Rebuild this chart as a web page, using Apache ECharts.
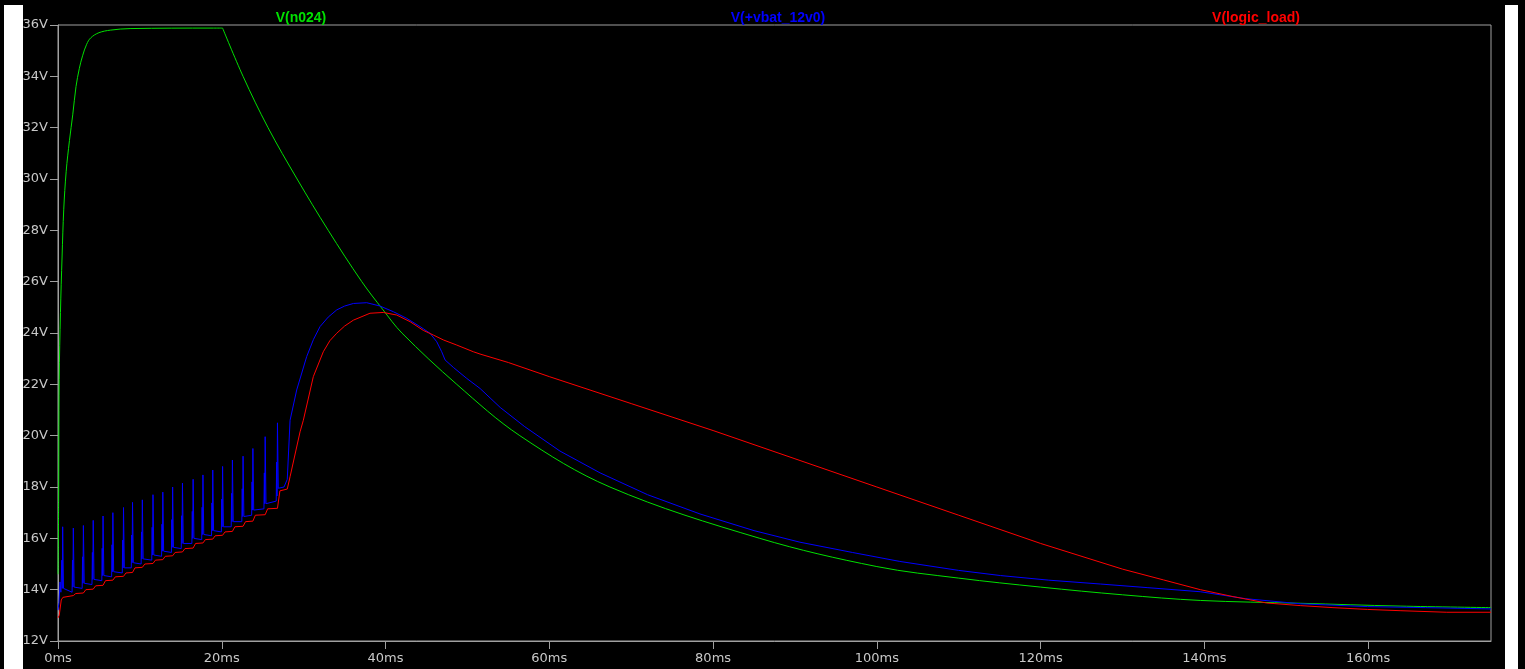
<!DOCTYPE html>
<html>
<head>
<meta charset="utf-8">
<script src="https://cdn.jsdelivr.net/npm/echarts@6/dist/echarts.min.js"></script>
<style>
  html, body { margin: 0; padding: 0; background: #000; }
  #chart { width: 1525px; height: 669px; }
</style>
</head>
<body>
<div id="chart"></div>
<script>
// tick positions
const xTicks = [0, 20, 40, 60, 80, 100, 120, 140, 160]
const yTicks = [12, 14, 16, 18, 20, 22, 24, 26, 28, 30, 32, 34, 36]

// V(n024) [ms, V]
const n024 = [
  [0, 14.6], [0.08, 17.4], [0.15, 22.2], [0.3, 24.8], [0.5, 27.0], [0.7, 28.8], [1.0, 30.3],
  [1.4, 31.5], [1.8, 32.5], [2.2, 33.6], [2.6, 34.3], [3.0, 34.8], [3.5, 35.25], [4.0, 35.5],
  [5.0, 35.7], [6.4, 35.8], [8.8, 35.86], [19.0, 35.88], [20.1, 35.88], [22.6, 34.0],
  [25.65, 32.0], [29.2, 30.0], [33.0, 28.0], [37.1, 26.0], [39.7, 24.9], [42.0, 24.0],
  [48.7, 22.0], [56.4, 20.0], [67.4, 18.0], [85.7, 16.0], [100.0, 14.9], [110.0, 14.45],
  [120.0, 14.1], [130.0, 13.8], [139.5, 13.58], [151.7, 13.47], [163.9, 13.36], [175, 13.3]
]
// the source switches off here: the trace has a sharp corner
const n024Corner = 20.1

// V(+vbat_12v0) [ms, V]
const vbat = [
  [0, 13.2], [0.12, 13.5], [0.25, 14.3], [0.35, 13.9],
  [0.42, 13.85], [0.47, 15.15], [0.52, 14.05], [0.57, 16.45], [0.67, 14.05],
  [1.72, 13.9], [1.77, 15.15], [1.82, 14.1], [1.87, 16.4], [1.97, 14.1],
  [2.95, 14.05], [3.0, 15.28], [3.05, 14.25], [3.1, 16.5], [3.2, 14.25],
  [4.15, 14.2], [4.2, 15.45], [4.25, 14.4], [4.3, 16.7], [4.4, 14.4],
  [5.35, 14.35], [5.4, 15.61], [5.45, 14.55], [5.5, 16.87], [5.6, 14.55],
  [6.55, 14.5], [6.6, 15.75], [6.65, 14.7], [6.7, 17.0], [6.8, 14.7],
  [7.85, 14.65], [7.9, 15.93], [7.95, 14.85], [8.0, 17.2], [8.1, 14.85],
  [8.95, 14.85], [9.0, 16.13], [9.05, 15.05], [9.1, 17.4], [9.2, 15.05],
  [10.15, 15.0], [10.2, 16.25], [10.25, 15.2], [10.3, 17.5], [10.4, 15.2],
  [11.45, 15.15], [11.5, 16.43], [11.55, 15.35], [11.6, 17.7], [11.7, 15.35],
  [12.65, 15.3], [12.7, 16.55], [12.75, 15.5], [12.8, 17.8], [12.9, 15.5],
  [13.85, 15.45], [13.9, 16.73], [13.95, 15.65], [14.0, 18.0], [14.1, 15.65],
  [15.05, 15.6], [15.1, 16.88], [15.15, 15.8], [15.2, 18.15], [15.3, 15.8],
  [16.35, 15.8], [16.4, 17.05], [16.45, 16.0], [16.5, 18.3], [16.6, 16.0],
  [17.55, 15.95], [17.6, 17.21], [17.65, 16.15], [17.7, 18.47], [17.8, 16.15],
  [18.75, 16.1], [18.8, 17.38], [18.85, 16.3], [18.9, 18.66], [19.0, 16.3],
  [19.95, 16.25], [20.0, 17.53], [20.05, 16.45], [20.1, 18.8], [20.2, 16.45],
  [21.15, 16.45], [21.2, 17.75], [21.25, 16.65], [21.3, 19.05], [21.4, 16.65],
  [22.45, 16.65], [22.5, 17.93], [22.55, 16.85], [22.6, 19.2], [22.7, 16.85],
  [23.65, 16.9], [23.7, 18.2], [23.75, 17.1], [23.8, 19.5], [23.9, 17.1],
  [25.15, 17.15], [25.2, 18.55], [25.25, 17.35], [25.3, 19.96], [25.4, 17.35],
  [26.65, 17.45], [26.7, 18.97], [26.75, 17.65], [26.8, 20.5], [26.9, 17.95],
  [27.6, 18.0], [28.0, 18.3], [28.34, 20.6], [29.15, 21.78], [30.37, 23.08],
  [31.2, 23.75], [32.0, 24.25], [33.0, 24.62], [34.04, 24.9], [35.0, 25.05], [36.07, 25.15],
  [37.7, 25.18], [39.33, 25.05], [40.95, 24.83], [42.59, 24.57], [44.21, 24.25],
  [45.43, 23.99], [46.25, 23.66], [46.86, 23.27], [47.27, 22.95], [48.28, 22.66],
  [49.92, 22.23], [51.54, 21.84], [54.0, 21.1], [57.0, 20.35], [61.3, 19.4],
  [66.2, 18.55], [72.0, 17.7], [78.4, 16.95], [85.0, 16.3], [90.6, 15.85], [97.0, 15.45],
  [102.8, 15.1], [110.0, 14.75], [115.1, 14.55], [121.0, 14.37], [127.3, 14.22],
  [133.0, 14.08], [139.5, 13.92], [145.0, 13.65], [151.7, 13.45], [159.9, 13.34],
  [167.0, 13.3], [175, 13.25]
]

// V(logic_load) [ms, V]
const logic = [
  [0, 12.9], [0.15, 13.0], [0.4, 13.6], [0.6, 13.7],
  [1.87, 13.77], [2.17, 13.85], [3.1, 13.87], [3.4, 14.0], [4.3, 14.02], [4.6, 14.15],
  [5.5, 14.17], [5.8, 14.35], [6.7, 14.37], [7.0, 14.5], [8.0, 14.52], [8.3, 14.65],
  [9.1, 14.67], [9.4, 14.85], [10.3, 14.87], [10.6, 15.0], [11.6, 15.02], [11.9, 15.15],
  [12.8, 15.17], [13.1, 15.3], [14.0, 15.32], [14.3, 15.45], [15.2, 15.47], [15.5, 15.6],
  [16.5, 15.62], [16.8, 15.8], [17.7, 15.82], [18.0, 15.95], [18.9, 15.97], [19.2, 16.1],
  [20.1, 16.12], [20.4, 16.25], [21.3, 16.27], [21.6, 16.45], [22.6, 16.47], [22.9, 16.65],
  [23.8, 16.67], [24.1, 16.9], [25.3, 16.92], [25.6, 17.15], [26.8, 17.17], [27.1, 17.85],
  [28.0, 17.92], [28.34, 18.4], [29.56, 20.15], [29.96, 20.6], [31.18, 22.3], [32.4, 23.27],
  [33.2, 23.7], [34.04, 23.99], [35.0, 24.27], [36.07, 24.5], [38.1, 24.77], [39.73, 24.8],
  [41.37, 24.7], [43.0, 24.44], [44.62, 24.1], [45.84, 23.92], [47.06, 23.73], [48.7, 23.53],
  [50.72, 23.27], [51.54, 23.18], [55.0, 22.85], [60.0, 22.3], [70.0, 21.25], [80.0, 20.2],
  [90.0, 19.1], [100.0, 18.0], [110.0, 16.9], [120.0, 15.8], [130.0, 14.8], [135.0, 14.38],
  [139.5, 14.0], [143.5, 13.73], [147.6, 13.48], [151.7, 13.38], [155.7, 13.3],
  [159.9, 13.23], [164, 13.18], [169.6, 13.12], [175, 13.12]
]

const chart = echarts.init(document.getElementById('chart'))

const axisGray = '#a0a0a0'
const labelGray = '#c8c8c8'
const green = '#00e000'
const legendFont = { fontSize: 14, fontWeight: 'bold', fontFamily: 'Liberation Sans, Arial' }

// split the green trace at the corner so smoothing does not round it off
const n024Rise = n024.filter(p => p[0] <= n024Corner)
const n024Fall = n024.filter(p => p[0] >= n024Corner)

var option = {
  backgroundColor: '#000',
  animation: false,
  graphic: [
    // white margins of the screenshot
    { type: 'rect', z: -1, shape: { x: 4, y: 5, width: 19, height: 664 }, style: { fill: '#fff' } },
    { type: 'rect', z: -1, shape: { x: 1505, y: 5, width: 13, height: 664 }, style: { fill: '#fff' } }
  ],
  title: [
    { text: 'V(n024)', left: 296, top: 6, textAlign: 'center',
      textStyle: Object.assign({ color: green }, legendFont) },
    { text: 'V(+vbat_12v0)', left: 773, top: 6, textAlign: 'center',
      textStyle: Object.assign({ color: '#0000ff' }, legendFont) },
    { text: 'V(logic_load)', left: 1251, top: 6, textAlign: 'center',
      textStyle: Object.assign({ color: '#ff0000' }, legendFont) }
  ],
  grid: {
    left: 58,
    right: 34,
    top: 25,
    bottom: 28,
    show: true,
    borderColor: axisGray,
    borderWidth: 1,
    backgroundColor: '#000'
  },
  xAxis: {
    type: 'value',
    min: 0,
    max: 175,
    interval: 20,
    axisLine: { lineStyle: { color: axisGray } },
    axisTick: { length: 8, lineStyle: { color: axisGray }, customValues: xTicks },
    axisLabel: {
      customValues: xTicks,
      color: labelGray,
      fontSize: 13,
      fontFamily: 'DejaVu Sans',
      margin: 11,
      formatter: v => v + 'ms'
    },
    splitLine: { show: false }
  },
  yAxis: {
    type: 'value',
    min: 12,
    max: 36,
    interval: 2,
    axisLine: { show: true, lineStyle: { color: axisGray } },
    axisTick: { show: true, length: 8, lineStyle: { color: axisGray }, customValues: yTicks },
    axisLabel: {
      customValues: yTicks,
      color: labelGray,
      fontSize: 13,
      fontFamily: 'DejaVu Sans',
      margin: 10,
      formatter: v => v + 'V'
    },
    splitLine: { show: false }
  },
  series: [
    { name: 'V(n024)', type: 'line', data: n024Rise, showSymbol: false, smooth: 0.35,
      lineStyle: { color: green, width: 1 } },
    { name: 'V(n024)', type: 'line', data: n024Fall, showSymbol: false, smooth: 0.35,
      lineStyle: { color: green, width: 1 } },
    { name: 'V(+vbat_12v0)', type: 'line', data: vbat, showSymbol: false,
      lineStyle: { color: '#0000ff', width: 1 } },
    { name: 'V(logic_load)', type: 'line', data: logic, showSymbol: false,
      lineStyle: { color: '#ff0000', width: 1 } }
  ]
}
chart.setOption(option)
</script>
</body>
</html>
